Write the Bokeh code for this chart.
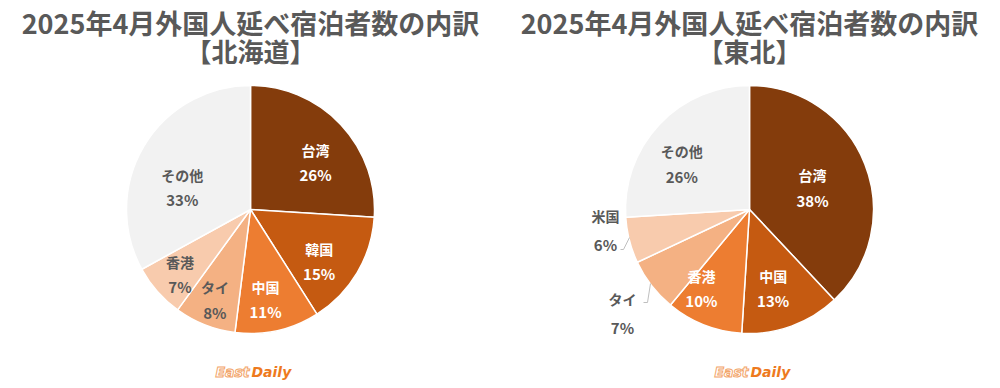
import math
from bokeh.plotting import figure
from bokeh.models import Range1d, ColumnDataSource
from bokeh.core.properties import value
from bokeh.embed import file_html
from bokeh.resources import INLINE

TITLE = "2025年4月外国人延べ宿泊者数の内訳"

hk_region = "【北海道】"
hk_labels = ["台湾", "韓国", "中国", "タイ", "香港", "その他"]
hk_values = [26, 15, 11, 8, 7, 33]

th_region = "【東北】"
th_labels = ["台湾", "中国", "香港", "タイ", "米国", "その他"]
th_values = [38, 13, 10, 7, 6, 26]

COLORS = ["#843C0C", "#C55A11", "#ED7D31", "#F4B183", "#F8CBAD", "#F2F2F2"]
TEXT_COLORS = ["#FFFFFF", "#FFFFFF", "#FFFFFF", "#595959", "#595959", "#595959"]

W, H = 1000, 388
FONT = "Noto Sans CJK JP"

p = figure(width=W, height=H, output_backend="svg", toolbar_location=None,
           x_range=Range1d(0, W), y_range=Range1d(0, H), min_border=0)
p.axis.visible = False
p.grid.visible = False
p.outline_line_color = None
p.background_fill_color = "white"
p.border_fill_color = "white"


def px(X):
    return X


def py(Y):
    return H - Y


R = 124

# label placement: (radius factor, angle tweak in degrees, outside?)
hk_place = [(0.65, 7, False), (0.69, 6, False), (0.73, 3, False), (0.78, 0, False), (0.77, -1, False), (0.58, -12, False)]
th_place = [(0.54, 2, False), (0.66, 3, False), (0.74, 10, False), (None, 0, True), (None, 0, True), (0.66, -9, False)]

# outside label positions (page coords) and leader lines for Tohoku
th_outside = {3: (622, 298, [(643, 302), (647, 302), (650, 283)]),
              4: (605, 215, [(620, 249), (623, 249), (629, 237)])}


def draw_pie(cx, cy, labels, values, region, place, outside):
    total = float(sum(values))
    cum = 0.0
    starts, ends, mids = [], [], []
    for v in values:
        a0 = cum / total
        cum += v
        a1 = cum / total
        starts.append(math.pi / 2 - 2 * math.pi * a1)
        ends.append(math.pi / 2 - 2 * math.pi * a0)
        mids.append((a0 + a1) / 2 * 360.0)
    src = ColumnDataSource(dict(x=[px(cx)] * len(values), y=[py(cy)] * len(values),
                                start=starts, end=ends, color=COLORS[:len(values)]))
    p.wedge(x="x", y="y", radius=R, start_angle="start", end_angle="end",
            fill_color="color", line_color="white", line_width=1.5, source=src)

    for i, (lab, v) in enumerate(zip(labels, values)):
        pct = f"{v}%"
        rf, tweak, out = place[i]
        if out:
            lx, ly, pts = outside[i]
            p.line([px(a) for a, b in pts], [py(b) for a, b in pts],
                   line_color="#BFBFBF", line_width=1)
        else:
            ang = math.radians(mids[i] + tweak)
            lx = cx + rf * R * math.sin(ang)
            ly = cy - rf * R * math.cos(ang) - 12
        p.text(x=[px(lx)], y=[py(ly)], text=[lab], text_align="center",
               text_baseline="middle", text_font=value(FONT), text_font_style="bold",
               text_font_size="14px", text_color=TEXT_COLORS[i])
        dy = 29 if out else 25
        p.text(x=[px(lx)], y=[py(ly + dy)], text=[pct], text_align="center",
               text_baseline="middle", text_font=value(FONT), text_font_style="bold",
               text_font_size="15px", text_color=TEXT_COLORS[i])

    # titles
    p.text(x=[px(cx)], y=[py(22)], text=[TITLE], text_align="center",
           text_baseline="middle", text_font=value(FONT), text_font_style="bold",
           text_font_size="27px", text_color="#595959")
    p.text(x=[px(cx)], y=[py(50)], text=[region], text_align="center",
           text_baseline="middle", text_font=value(FONT), text_font_style="bold",
           text_font_size="26px", text_color="#595959")

    # logo
    p.text(x=[px(cx - 1)], y=[py(371)], text=["East"], text_align="right",
           text_baseline="middle", text_font=value("DejaVu Sans"),
           text_font_style="bold italic", text_font_size="14px",
           text_color="white", text_outline_color="#F2A56A")
    p.text(x=[px(cx + 1)], y=[py(371)], text=["Daily"], text_align="left",
           text_baseline="middle", text_font=value("DejaVu Sans"),
           text_font_style="bold italic", text_font_size="14px",
           text_color="#EE7A1E")


draw_pie(250, 209, hk_labels, hk_values, hk_region, hk_place, {})
draw_pie(749, 209, th_labels, th_values, th_region, th_place, th_outside)

open("out.html", "w").write(file_html(p, INLINE))
